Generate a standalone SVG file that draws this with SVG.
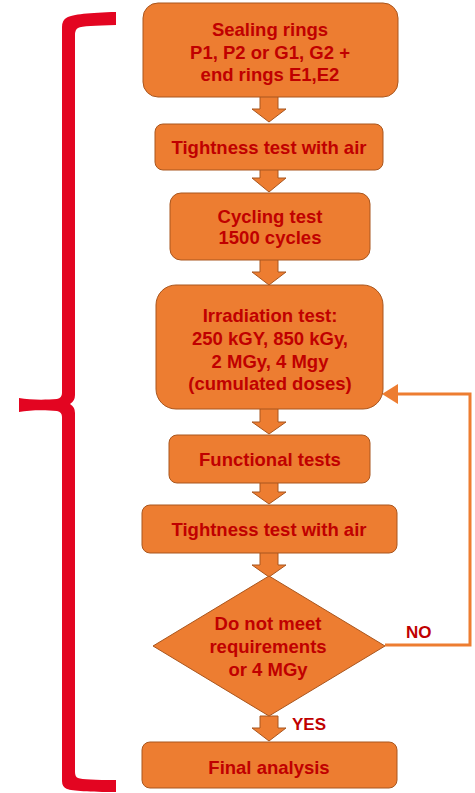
<svg xmlns="http://www.w3.org/2000/svg" width="475" height="793" viewBox="0 0 475 793">
<defs>
<style>
.box{fill:#ED7D31;stroke:#A9561E;stroke-width:1}
.arr{fill:#ED7D31;stroke:#A9561E;stroke-width:1}
.t{font-family:"Liberation Sans",Arial,sans-serif;font-weight:bold;font-size:18.5px;fill:#C00000;text-anchor:middle}
.lbl{font-family:"Liberation Sans",Arial,sans-serif;font-weight:bold;font-size:17px;fill:#C00000}
.fb{fill:none;stroke:#ED7D31;stroke-width:3}
</style>
<marker id="ah" markerUnits="userSpaceOnUse" markerWidth="16" markerHeight="20" refX="0" refY="10" orient="auto">
<path d="M0,0 L16,10 L0,20 Z" fill="#ED7D31"/>
</marker>
</defs>
<rect width="475" height="793" fill="#FFFFFF"/>
<g id="brace">
<path fill="#E30521" d="M116,12 L116,25 C95,25.5 82,26 78,28 Q75,29.5 75,35 L75,395 Q75,401 70,404 Q75,407 75,413 L75,772 Q75,777 78,778 C82,779.5 95,780 116,780 L116,792 C90,792 72,791 67,789 Q62,787 62,781 L62,417 Q62,412 57,411 C45,410 30,410 19,412 L19,398 C30,400 45,400 57,399 Q62,398 62,393 L62,27 Q62,20 67,17.5 C72,14.5 90,12.5 116,12 Z"/>
</g>
<g id="connectors">
<polygon class="arr" points="260,96 278,96 278,109 286,109 269,122 252,109 260,109"/>
<polygon class="arr" points="260,169 278,169 278,178 286,178 269,192 252,178 260,178"/>
<polygon class="arr" points="260,259 278,259 278,272 286,272 269,285 252,272 260,272"/>
<polygon class="arr" points="260,408 278,408 278,422 286,422 269,434 252,422 260,422"/>
<polygon class="arr" points="260,482 278,482 278,492 286,492 269,504 252,492 260,492"/>
<polygon class="arr" points="260,552 278,552 278,565 286,565 269,577 252,565 260,565"/>
<polygon class="arr" points="260,716 278,716 278,728 286,728 269,741 252,728 260,728"/>
<path class="fb" d="M385,645 H470 V394 H398" marker-end="url(#ah)"/>
<text class="lbl" x="406" y="638">NO</text>
<text class="lbl" x="292" y="730">YES</text>
</g>
<g id="n1">
<rect class="box" x="143" y="3" width="255" height="94" rx="15" ry="15"/>
<text class="t" x="270" y="35.5">Sealing rings</text>
<text class="t" x="270" y="58.5">P1, P2 or G1, G2 +</text>
<text class="t" x="270" y="80.5">end rings E1,E2</text>
</g>
<g id="n2">
<rect class="box" x="155" y="124" width="228" height="46" rx="8" ry="8"/>
<text class="t" x="269" y="153.5">Tightness test with air</text>
</g>
<g id="n3">
<rect class="box" x="170" y="193" width="200" height="67" rx="11" ry="11"/>
<text class="t" x="270" y="222.5">Cycling test</text>
<text class="t" x="270" y="243.5">1500 cycles</text>
</g>
<g id="n4">
<rect class="box" x="156" y="285" width="227" height="124" rx="20" ry="20"/>
<text class="t" x="270" y="321.5">Irradiation test:</text>
<text class="t" x="270" y="344.5">250 kGY, 850 kGy,</text>
<text class="t" x="270" y="367.5">2 MGy, 4 Mgy</text>
<text class="t" x="270" y="389.5">(cumulated doses)</text>
</g>
<g id="n5">
<rect class="box" x="169" y="435" width="201" height="48" rx="8" ry="8"/>
<text class="t" x="270" y="465.5">Functional tests</text>
</g>
<g id="n6">
<rect class="box" x="142" y="505" width="255" height="48" rx="8" ry="8"/>
<text class="t" x="269" y="535.5">Tightness test with air</text>
</g>
<g id="n7">
<polygon class="box" points="269,576 385,646 269,716 153,646"/>
<text class="t" x="268" y="629.5">Do not meet</text>
<text class="t" x="268" y="652.5">requirements</text>
<text class="t" x="268" y="675.5">or 4 MGy</text>
</g>
<g id="n8">
<rect class="box" x="142" y="742" width="255" height="46" rx="8" ry="8"/>
<text class="t" x="269" y="773.5">Final analysis</text>
</g>
</svg>
